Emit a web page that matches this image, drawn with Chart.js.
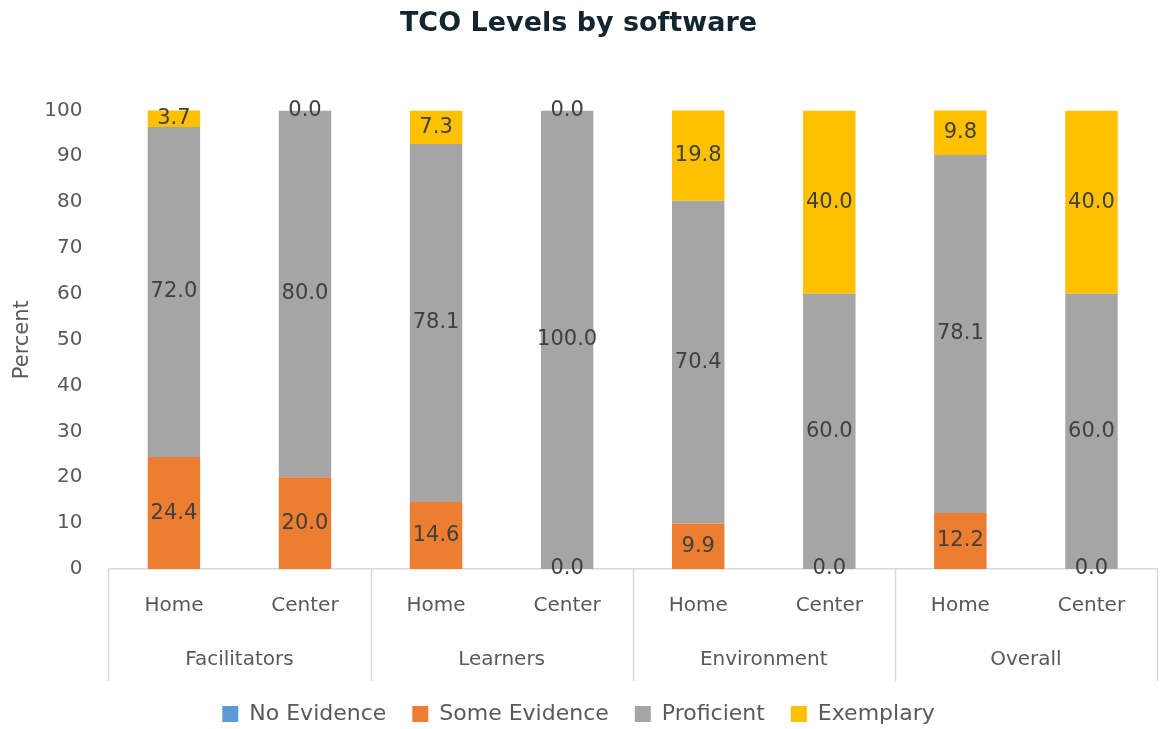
<!DOCTYPE html>
<html>
<head>
<meta charset="utf-8">
<script src="https://cdn.jsdelivr.net/npm/chart.js@4/dist/chart.umd.min.js"></script>
<style>
  html, body { margin: 0; padding: 0; background: #fff; }
  #wrap { width: 1160px; height: 729px; }
</style>
</head>
<body>
<div id="wrap"><canvas id="tcoChart"></canvas></div>
<script>
// categories
const levels = ["Home", "Center", "Home", "Center", "Home", "Center", "Home", "Center"];
const groups = ["Facilitators", "Learners", "Environment", "Overall"];

// series values (percent)
const noEvidence = [0, 0, 0, 0, 0, 0, 0, 0];
const someEvidence = [24.4, 20.0, 14.6, 0.0, 9.9, 0.0, 12.2, 0.0];
const proficient = [72.0, 80.0, 78.1, 100.0, 70.4, 60.0, 78.1, 60.0];
const exemplary = [3.7, 0.0, 7.3, 0.0, 19.8, 40.0, 9.8, 40.0];

const yTicks = [0, 10, 20, 30, 40, 50, 60, 70, 80, 90, 100];

const FONT = "'DejaVu Sans', sans-serif";
const lineColor = "#d9d9d9";

// value labels in the middle of each segment (No Evidence has none)
const valueLabels = {
    id: "valueLabels",
    afterDatasetsDraw(chart) {
        const ctx = chart.ctx;
        ctx.save();
        ctx.font = "21px " + FONT;
        ctx.fillStyle = "#404040";
        ctx.textAlign = "center";
        ctx.textBaseline = "middle";
        chart.data.datasets.forEach((ds, di) => {
            if (ds.noLabels) return;
            chart.getDatasetMeta(di).data.forEach((bar, i) => {
                const y = (bar.y + bar.base) / 2;
                ctx.fillText(ds.data[i].toFixed(1), bar.x, y);
            });
        });
        ctx.restore();
    }
};

// vertical separators between the groups, through both label rows
const groupLines = {
    id: "groupLines",
    afterDraw(chart) {
        const x = chart.scales.x;
        const x2 = chart.scales.x2;
        const ctx = chart.ctx;
        const per = levels.length / groups.length;
        ctx.save();
        ctx.strokeStyle = lineColor;
        ctx.lineWidth = 1.5;
        for (let g = 0; g <= groups.length; g++) {
            const px = Math.round(x.left + x.width * (g * per) / levels.length) + 0.5;
            ctx.beginPath();
            ctx.moveTo(px, x.top);
            ctx.lineTo(px, x2.bottom + 4);
            ctx.stroke();
        }
        ctx.restore();
    }
};

const ctxTco = document.getElementById("tcoChart").getContext("2d");

const tcoChart = new Chart(ctxTco, {
    type: "bar",
    data: {
        labels: levels,
        datasets: [
            { label: "No Evidence", data: noEvidence, backgroundColor: "#5b9bd5", noLabels: true },
            { label: "Some Evidence", data: someEvidence, backgroundColor: "#ed7d31" },
            { label: "Proficient", data: proficient, backgroundColor: "#a5a5a5" },
            { label: "Exemplary", data: exemplary, backgroundColor: "#ffc000" }
        ]
    },
    options: {
        responsive: true,
        maintainAspectRatio: false,
        animation: false,
        datasets: {
            bar: { categoryPercentage: 1.0, barPercentage: 0.4, borderWidth: 0 }
        },
        layout: { padding: { left: 0, right: 3, top: 0, bottom: -6 } },
        plugins: {
            title: {
                display: true,
                text: "TCO Levels by software",
                color: "#13262f",
                font: { family: FONT, size: 27, weight: "bold" },
                padding: { top: 8, bottom: 70 }
            },
            legend: {
                position: "bottom",
                labels: {
                    color: "#595959",
                    font: { family: FONT, size: 22 },
                    boxWidth: 16,
                    boxHeight: 16,
                    padding: 26
                }
            },
            tooltip: { enabled: false }
        },
        scales: {
            x: {
                stacked: true,
                grid: { display: false, drawTicks: false },
                border: { display: true, color: lineColor, width: 1.5 },
                ticks: { color: "#595959", font: { family: FONT, size: 20 }, padding: 25, maxRotation: 0 }
            },
            x2: {
                type: "category",
                labels: groups,
                position: "bottom",
                grid: { display: false, drawTicks: false },
                border: { display: false },
                ticks: { color: "#595959", font: { family: FONT, size: 20, lineHeight: 0.8 }, padding: 9, maxRotation: 0 }
            },
            y: {
                stacked: true,
                min: 0,
                max: 100,
                afterBuildTicks: scale => { scale.ticks = yTicks.map(v => ({ value: v })); },
                grid: { display: false, drawTicks: false },
                border: { display: false },
                ticks: { color: "#595959", font: { family: FONT, size: 20 }, padding: 26 },
                title: {
                    display: true,
                    text: "Percent",
                    color: "#595959",
                    font: { family: FONT, size: 21 },
                    padding: { top: 10, bottom: -17 }
                }
            }
        }
    },
    plugins: [valueLabels, groupLines]
});
</script>
</body>
</html>
